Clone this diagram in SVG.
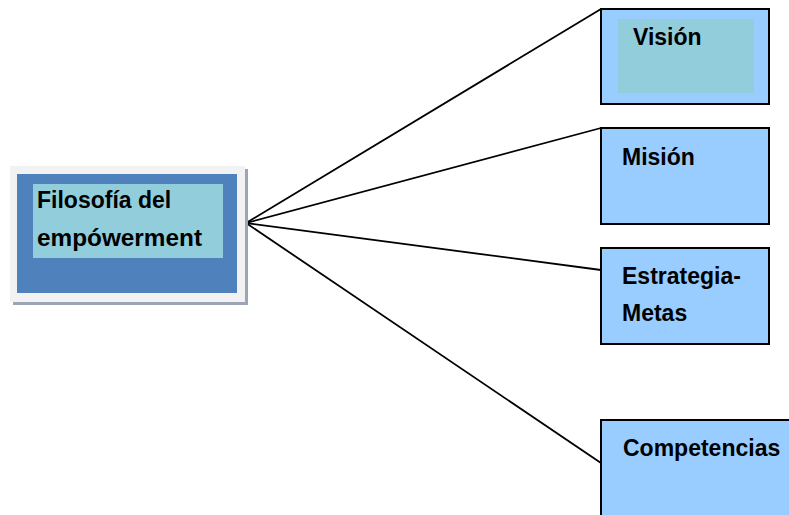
<svg xmlns="http://www.w3.org/2000/svg" width="789" height="515" viewBox="0 0 789 515">
<style>
.t{font-family:"Liberation Sans",Arial,sans-serif;font-weight:bold;font-size:23px;fill:#000}
.box{fill:#99CCFF;stroke:#000;stroke-width:2}
.c{stroke:#000;stroke-width:1.8;fill:none}
</style>
<rect width="789" height="515" fill="#fff"/>
<g id="connectors">
<line class="c" x1="246" y1="223" x2="601" y2="9"/>
<line class="c" x1="246" y1="223" x2="601" y2="128"/>
<line class="c" x1="246" y1="223" x2="601" y2="270"/>
<line class="c" x1="246" y1="223" x2="601" y2="463"/>
</g>
<g id="filosofia">
<rect x="13" y="169" width="235" height="136" fill="#9aa6b8"/>
<rect x="10" y="166" width="235" height="136" fill="#f2f2f2"/>
<rect x="17" y="174" width="220" height="119" fill="#4F81BD"/>
<rect x="33" y="184" width="190" height="74" fill="#92CDDC"/>
<text class="t" x="37" y="208">Filosofía del</text>
<text class="t" x="37" y="246" textLength="165" lengthAdjust="spacingAndGlyphs">empówerment</text>
</g>
<g id="vision">
<rect class="box" x="601" y="9" width="168" height="95"/>
<rect x="618" y="19" width="136" height="74" fill="#92CDDC"/>
<text class="t" x="633" y="45">Visión</text>
</g>
<g id="mision">
<rect class="box" x="601" y="128" width="168" height="96"/>
<text class="t" x="622" y="165">Misión</text>
</g>
<g id="estrategia">
<rect class="box" x="601" y="248" width="168" height="96"/>
<text class="t" x="622" y="284">Estrategia-</text>
<text class="t" x="622" y="321">Metas</text>
</g>
<g id="competencias">
<rect class="box" x="601" y="420" width="200" height="110"/>
<text class="t" x="623" y="456">Competencias</text>
</g>
</svg>
